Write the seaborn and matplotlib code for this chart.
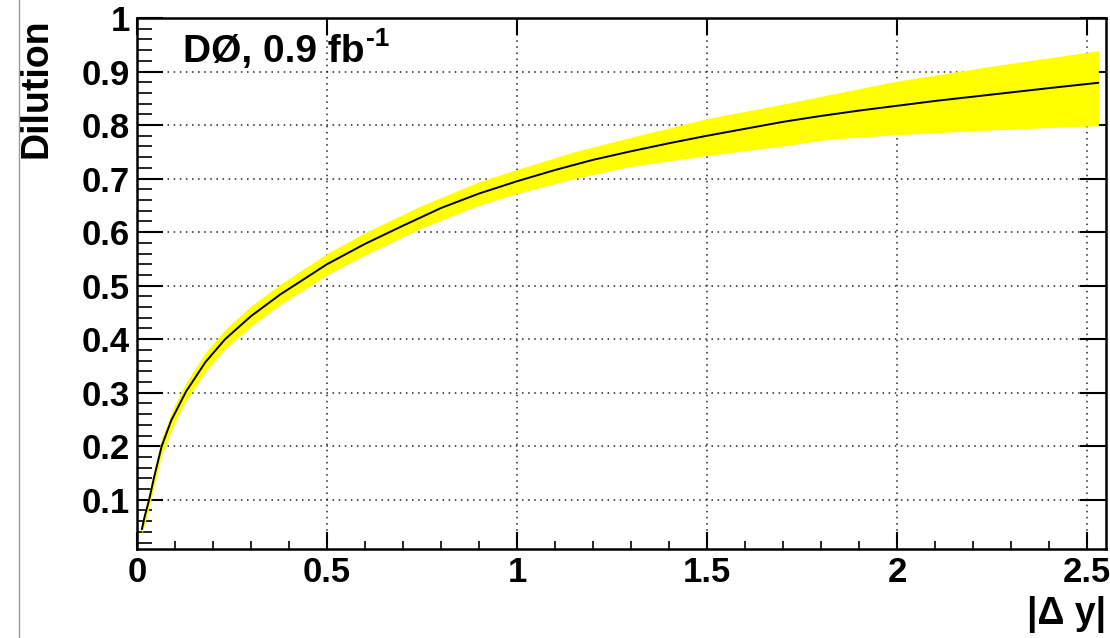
import numpy as np
import pandas as pd
import matplotlib
matplotlib.use("Agg")
import matplotlib.pyplot as plt
from matplotlib.lines import Line2D
from matplotlib.ticker import MultipleLocator, FuncFormatter
import seaborn as sns

# curve
delta_y = [0.013, 0.02, 0.032, 0.045, 0.065, 0.09, 0.129, 0.18, 0.232, 0.30, 0.376, 0.45,
           0.50, 0.60, 0.70, 0.80, 0.90, 1.00, 1.10, 1.20, 1.30, 1.40, 1.50, 1.60,
           1.70, 1.80, 1.90, 2.00, 2.10, 2.20, 2.30, 2.40, 2.53]
dilution = [0.045, 0.068, 0.100, 0.142, 0.200, 0.248, 0.302, 0.357, 0.400, 0.443, 0.483, 0.517,
            0.540, 0.578, 0.612, 0.645, 0.672, 0.695, 0.716, 0.735, 0.751, 0.766, 0.780, 0.793,
            0.806, 0.817, 0.827, 0.836, 0.845, 0.853, 0.861, 0.869, 0.879]

# uncertainty band (yellow)
band_x = [0.013, 0.032, 0.065, 0.10, 0.129, 0.18, 0.232, 0.30, 0.376, 0.50, 0.60, 0.75,
          0.90, 1.00, 1.15, 1.30, 1.50, 1.70, 1.824, 2.00, 2.25, 2.53]
band_lo = [0.035, 0.086, 0.184, 0.245, 0.285, 0.339, 0.382, 0.424, 0.464, 0.520, 0.557, 0.608,
           0.650, 0.672, 0.700, 0.723, 0.743, 0.761, 0.774, 0.782, 0.791, 0.799]
band_hi = [0.055, 0.114, 0.216, 0.279, 0.319, 0.375, 0.418, 0.462, 0.502, 0.560, 0.599, 0.650,
           0.694, 0.717, 0.750, 0.777, 0.812, 0.839, 0.857, 0.882, 0.910, 0.939]

sns.set_theme(style="white")
plt.rcParams['font.family'] = ['Liberation Sans', 'DejaVu Sans']
plt.rcParams['font.weight'] = 'bold'
plt.rcParams['text.color'] = 'black'
plt.rcParams['axes.labelcolor'] = 'black'
plt.rcParams['xtick.color'] = 'black'
plt.rcParams['ytick.color'] = 'black'

df = pd.DataFrame({'dy': delta_y, 'dil': dilution})

fig = plt.figure(figsize=(11.1, 6.38), dpi=100)
ax = fig.add_axes([0.1234, 0.1395, 0.8730, 0.8323])

ax.fill_between(band_x, band_lo, band_hi, color='#ffff00', linewidth=0, zorder=2)
sns.lineplot(data=df, x='dy', y='dil', color='black', linewidth=1.4, ax=ax, zorder=3)

ax.set_xlim(0, 2.55)
ax.set_ylim(0.008, 1.0)

ax.xaxis.set_major_locator(MultipleLocator(0.5))
ax.xaxis.set_minor_locator(MultipleLocator(0.1))
ax.yaxis.set_major_locator(MultipleLocator(0.1))
ax.yaxis.set_minor_locator(MultipleLocator(0.02))
ax.xaxis.set_major_formatter(FuncFormatter(lambda v, p: '%g' % round(v, 2)))
ax.yaxis.set_major_formatter(FuncFormatter(lambda v, p: '%g' % round(v, 2) if v > 0.05 else ''))

ax.grid(True, which='major', color='#222222', linestyle=(0, (1, 3)), linewidth=1.1, zorder=1)
ax.set_axisbelow(True)

ax.tick_params(axis='both', which='both', direction='in', colors='black', labelsize=25)
ax.tick_params(axis='y', which='major', length=19, width=1.5, pad=5, left=True, right=True)
ax.tick_params(axis='y', which='minor', length=11, width=1.2, left=True, right=False)
ax.tick_params(axis='x', which='major', length=12, width=1.5, pad=5, bottom=True, top=True)
ax.tick_params(axis='x', which='minor', length=6, width=1.2, bottom=True, top=False)
for lab in ax.get_xticklabels() + ax.get_yticklabels():
    lab.set_fontweight('bold')

for s in ax.spines.values():
    s.set_color('black')
    s.set_linewidth(1.8)

ax.set_ylabel('Dilution', fontsize=27, fontweight='bold', loc='top')
ax.yaxis.set_label_coords(-0.085, 1.0)
ax.set_xlabel('|Δ y|', fontsize=27, fontweight='bold', loc='right')
ax.xaxis.set_label_coords(1.0, -0.088)

lumi = ax.text(0.121, 0.917, 'DØ, 0.9 fb', fontsize=28, fontweight='bold',
               ha='left', va='baseline', zorder=4)
ax.annotate('-1', xy=(1, 1), xycoords=lumi, xytext=(1, 5), textcoords='offset points',
            fontsize=19, fontweight='bold', ha='left', va='top', zorder=4)

# thin frame line at the left of the canvas
fig.add_artist(Line2D([19 / 1110, 19 / 1110], [0, 1], transform=fig.transFigure,
                      color='#999999', linewidth=1))

fig.savefig('out.png', dpi=100, facecolor='white')
